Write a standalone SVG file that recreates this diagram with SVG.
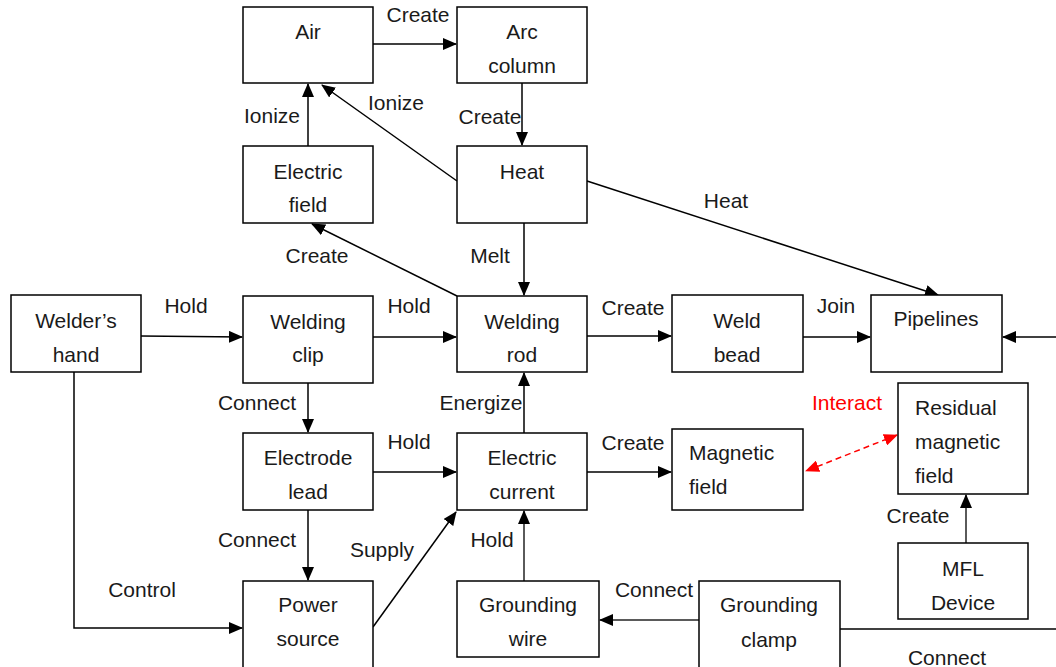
<svg xmlns="http://www.w3.org/2000/svg" width="1056" height="667" viewBox="0 0 1056 667">
<style>
.box{fill:#fff;stroke:#000;stroke-width:1.5}
.t{font-family:"Liberation Sans",Arial,sans-serif;font-size:21px;fill:#1a1a1a;text-anchor:middle}
.l{text-anchor:start}
.c{fill:none;stroke:#000;stroke-width:1.5}
.g{stroke:#5a5a5a;stroke-width:2}
.red{fill:#ff0000}
</style>
<defs>
<marker id="ah" markerUnits="userSpaceOnUse" markerWidth="14" markerHeight="12" refX="13" refY="6" orient="auto">
<path d="M0,0 L14,6 L0,12 Z" fill="#000"/>
</marker>
<marker id="ahr" markerUnits="userSpaceOnUse" markerWidth="14" markerHeight="12" refX="13" refY="6" orient="auto-start-reverse">
<path d="M0,0 L14,6 L0,12 Z" fill="#ff0000"/>
</marker>
</defs>
<rect width="1056" height="667" fill="#fff"/>
<g id="connectors">
<line class="c" x1="373" y1="44" x2="456" y2="44" marker-end="url(#ah)"/>
<line class="c" x1="522" y1="83" x2="522" y2="145" marker-end="url(#ah)"/>
<line class="c" x1="308" y1="146" x2="308" y2="84" marker-end="url(#ah)"/>
<line class="c" x1="457" y1="181" x2="322" y2="85" marker-end="url(#ah)"/>
<line class="c" x1="587" y1="181" x2="938" y2="295" marker-end="url(#ah)"/>
<line class="c" x1="524" y1="223" x2="524" y2="295" marker-end="url(#ah)"/>
<line class="c" x1="457" y1="296" x2="312" y2="224" marker-end="url(#ah)"/>
<line class="c" x1="141" y1="336" x2="242" y2="337" marker-end="url(#ah)"/>
<line class="c" x1="373" y1="337" x2="456" y2="337" marker-end="url(#ah)"/>
<line class="c" x1="587" y1="336" x2="671" y2="336" marker-end="url(#ah)"/>
<line class="c" x1="803" y1="337" x2="870" y2="337" marker-end="url(#ah)"/>
<line class="c" x1="1056" y1="337" x2="1003" y2="337" marker-end="url(#ah)"/>
<line class="c" x1="308" y1="383" x2="308" y2="432" marker-end="url(#ah)"/>
<line class="c" x1="524" y1="433" x2="524" y2="373" marker-end="url(#ah)"/>
<line class="c" x1="373" y1="472" x2="456" y2="472" marker-end="url(#ah)"/>
<line class="c" x1="587" y1="472" x2="671" y2="472" marker-end="url(#ah)"/>
<line x1="897" y1="435" x2="806" y2="471" stroke="#ff0000" stroke-width="1.5" stroke-dasharray="6,4" marker-start="url(#ahr)" marker-end="url(#ahr)"/>
<line class="c" x1="308" y1="510" x2="308" y2="580" marker-end="url(#ah)"/>
<line class="c" x1="373" y1="627" x2="456" y2="512" marker-end="url(#ah)"/>
<line class="c g" x1="524" y1="581" x2="524" y2="511" marker-end="url(#ah)"/>
<line class="c g" x1="699" y1="620" x2="600" y2="620" marker-end="url(#ah)"/>
<line class="c g" x1="966" y1="543" x2="966" y2="495" marker-end="url(#ah)"/>
<polyline class="c" points="74,372 74,628 242,628" marker-end="url(#ah)"/>
<line class="c" x1="840" y1="629" x2="1056" y2="629"/>
</g>
<g id="labels">
<text class="t" x="418" y="22">Create</text>
<text class="t" x="272" y="123">Ionize</text>
<text class="t" x="396" y="110">Ionize</text>
<text class="t" x="490" y="124">Create</text>
<text class="t" x="726" y="208">Heat</text>
<text class="t" x="317" y="263">Create</text>
<text class="t" x="490" y="263">Melt</text>
<text class="t" x="186" y="313">Hold</text>
<text class="t" x="409" y="313">Hold</text>
<text class="t" x="633" y="315">Create</text>
<text class="t" x="836" y="313">Join</text>
<text class="t" x="257" y="410">Connect</text>
<text class="t" x="481" y="410">Energize</text>
<text class="t red" x="847" y="410">Interact</text>
<text class="t" x="409" y="449">Hold</text>
<text class="t" x="633" y="450">Create</text>
<text class="t" x="257" y="547">Connect</text>
<text class="t" x="382" y="557">Supply</text>
<text class="t" x="492" y="547">Hold</text>
<text class="t" x="142" y="597">Control</text>
<text class="t" x="918" y="523">Create</text>
<text class="t" x="654" y="597">Connect</text>
<text class="t" x="947" y="665">Connect</text>
</g>
<g id="air"><rect class="box" x="243" y="7" width="130" height="76"/><text class="t" x="308" y="39">Air</text></g>
<g id="arc-column"><rect class="box" x="457" y="7" width="130" height="76"/><text class="t" x="522" y="39">Arc</text><text class="t" x="522" y="73">column</text></g>
<g id="electric-field"><rect class="box" x="243" y="146" width="130" height="77"/><text class="t" x="308" y="179">Electric</text><text class="t" x="308" y="212">field</text></g>
<g id="heat"><rect class="box" x="457" y="146" width="130" height="77"/><text class="t" x="522" y="179">Heat</text></g>
<g id="welders-hand"><rect class="box" x="11" y="295" width="130" height="77"/><text class="t" x="76" y="328">Welder’s</text><text class="t" x="76" y="362">hand</text></g>
<g id="welding-clip"><rect class="box" x="243" y="296" width="130" height="87"/><text class="t" x="308" y="329">Welding</text><text class="t" x="308" y="362">clip</text></g>
<g id="welding-rod"><rect class="box" x="457" y="296" width="130" height="76"/><text class="t" x="522" y="329">Welding</text><text class="t" x="522" y="362">rod</text></g>
<g id="weld-bead"><rect class="box" x="672" y="295" width="131" height="77"/><text class="t" x="737" y="328">Weld</text><text class="t" x="737" y="362">bead</text></g>
<g id="pipelines"><rect class="box" x="871" y="295" width="131" height="77"/><text class="t" x="936" y="326">Pipelines</text></g>
<g id="residual-magnetic-field"><rect class="box" x="898" y="383" width="130" height="111"/><text class="t l" x="915" y="415">Residual</text><text class="t l" x="915" y="449">magnetic</text><text class="t l" x="915" y="483">field</text></g>
<g id="electrode-lead"><rect class="box" x="243" y="433" width="130" height="77"/><text class="t" x="308" y="465">Electrode</text><text class="t" x="308" y="499">lead</text></g>
<g id="electric-current"><rect class="box" x="457" y="433" width="130" height="77"/><text class="t" x="522" y="465">Electric</text><text class="t" x="522" y="499">current</text></g>
<g id="magnetic-field"><rect class="box" x="672" y="429" width="131" height="81"/><text class="t l" x="689" y="460">Magnetic</text><text class="t l" x="689" y="494">field</text></g>
<g id="mfl-device"><rect class="box" x="898" y="543" width="130" height="76"/><text class="t" x="963" y="576">MFL</text><text class="t" x="963" y="610">Device</text></g>
<g id="power-source"><rect class="box" x="243" y="581" width="130" height="100"/><text class="t" x="308" y="612">Power</text><text class="t" x="308" y="646">source</text></g>
<g id="grounding-wire"><rect class="box" x="457" y="581" width="142" height="76"/><text class="t" x="528" y="612">Grounding</text><text class="t" x="528" y="646">wire</text></g>
<g id="grounding-clamp"><rect class="box" x="699" y="581" width="141" height="100"/><text class="t" x="769" y="612">Grounding</text><text class="t" x="769" y="647">clamp</text></g>
</svg>
